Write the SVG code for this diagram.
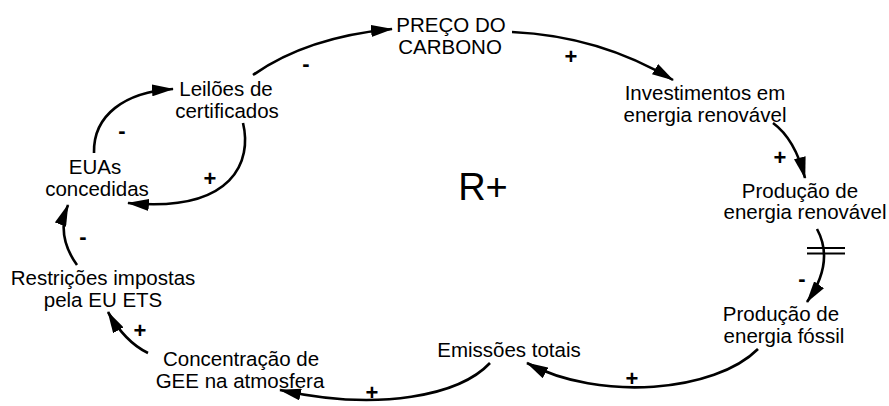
<svg xmlns="http://www.w3.org/2000/svg" width="889" height="406" viewBox="0 0 889 406">
<defs>
<style>
text{font-family:"Liberation Sans",Arial,sans-serif;font-size:20.5px;fill:#000;text-anchor:middle}
.big{font-size:38px}
.s{font-size:22px;font-weight:bold}
.c{fill:none;stroke:#000;stroke-width:2.6}
</style>
<marker id="ah" viewBox="0 0 22 12" refX="21" refY="6" markerWidth="22" markerHeight="12" markerUnits="userSpaceOnUse" orient="auto">
<path d="M0,0 L22,6 L0,12 Z" fill="#000"/>
</marker>
</defs>
<rect width="889" height="406" fill="#fff"/>
<g id="connectors">
<path class="c" d="M253,75 Q307,37 392,29" marker-end="url(#ah)"/>
<path class="c" d="M512,32 Q600,36 673,80" marker-end="url(#ah)"/>
<path class="c" d="M773,123 Q795,139 805,178" marker-end="url(#ah)"/>
<path class="c" d="M817,229 Q835,262 807,302" marker-end="url(#ah)"/>
<path class="c" d="M758,349 C715,392 600,402 527,363" marker-end="url(#ah)"/>
<path class="c" d="M490,363 C460,395 380,412 280,390" marker-end="url(#ah)"/>
<path class="c" d="M148,353 Q125,342 108,312" marker-end="url(#ah)"/>
<path class="c" d="M77,265 Q56,236 68,205" marker-end="url(#ah)"/>
<path class="c" d="M243,123 C252,160 235,213 128,203" marker-end="url(#ah)"/>
<path class="c" d="M94,153 C93,115 125,92 173,89" marker-end="url(#ah)"/>
<path d="M807,248 H845 M807,253.5 H845" stroke="#000" stroke-width="2"/>
<text class="s" x="306" y="71">-</text>
<text class="s" x="571" y="64">+</text>
<text class="s" x="780" y="165">+</text>
<text class="s" x="802" y="286">-</text>
<text class="s" x="632" y="386">+</text>
<text class="s" x="372" y="400">+</text>
<text class="s" x="140" y="338">+</text>
<text class="s" x="83" y="244">-</text>
<text class="s" x="210" y="186">+</text>
<text class="s" x="122" y="138">-</text>
</g>
<g id="preco"><text x="451" y="32">PREÇO DO</text><text x="450" y="53.5">CARBONO</text></g>
<g id="leiloes"><text x="226" y="96">Leilões de</text><text x="227" y="117.5">certificados</text></g>
<g id="euas"><text x="95" y="174">EUAs</text><text x="97" y="195.5">concedidas</text></g>
<g id="loop"><text class="big" x="483" y="200">R+</text></g>
<g id="investimentos"><text x="705" y="100">Investimentos em</text><text x="705" y="121.5">energia renovável</text></g>
<g id="prodrenov"><text x="800" y="197.5">Produção de</text><text x="805" y="219">energia renovável</text></g>
<g id="restricoes"><text x="103" y="285">Restrições impostas</text><text x="103" y="306.5">pela EU ETS</text></g>
<g id="prodfossil"><text x="781" y="321">Produção de</text><text x="784" y="342.5">energia fóssil</text></g>
<g id="emissoes"><text x="509" y="357">Emissões totais</text></g>
<g id="concentracao"><text x="241" y="366">Concentração de</text><text x="240" y="387.5">GEE na atmosfera</text></g>
</svg>
